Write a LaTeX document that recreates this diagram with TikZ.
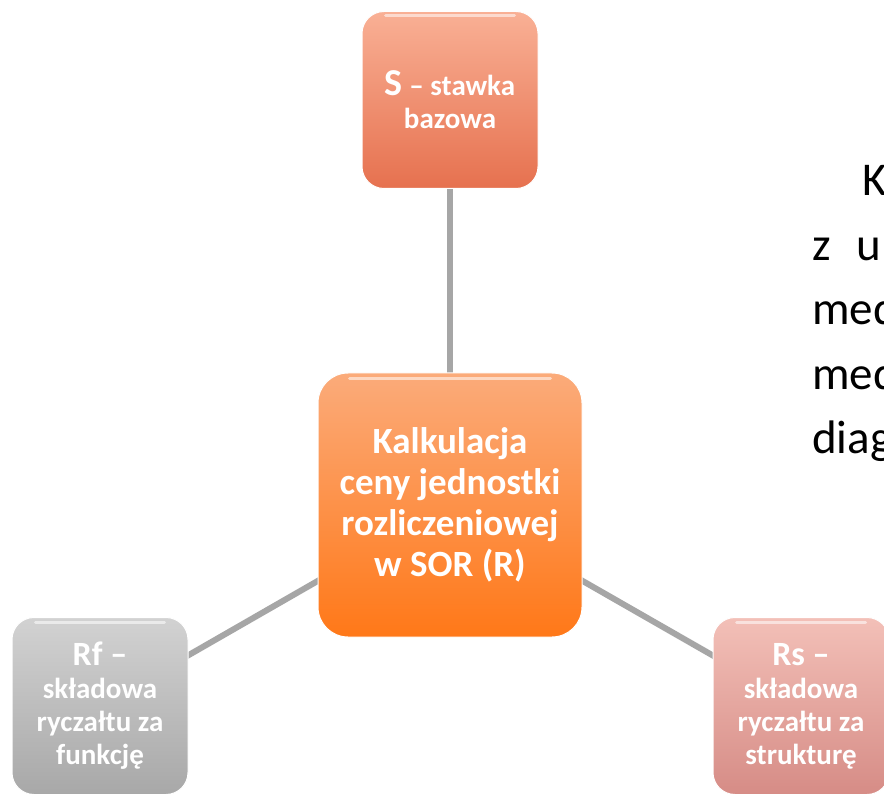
\documentclass[tikz,border=0pt]{standalone}
\usepackage{fontspec}
\setmainfont{Carlito}
\usetikzlibrary{backgrounds}
\definecolor{conncol}{HTML}{A6A6A6}
\definecolor{sTop}{HTML}{F9B095}
\definecolor{sBot}{HTML}{E6714F}
\definecolor{cTop}{HTML}{FBAB7A}
\definecolor{cBot}{HTML}{FF7818}
\definecolor{fTop}{HTML}{D2D2D2}
\definecolor{fBot}{HTML}{A8A8A8}
\definecolor{rTop}{HTML}{F3C0B8}
\definecolor{rBot}{HTML}{D68C86}
\tikzset{
  box/.style={rounded corners=22pt, inner sep=0pt, align=center, text=white,
    font=\fontsize{29}{33}\selectfont\bfseries,
    minimum width=176pt, minimum height=177pt, draw=white, line width=1pt},
  bigbox/.style={box, rounded corners=30pt, minimum width=264pt, minimum height=264pt,
    font=\fontsize{37}{41}\selectfont\bfseries},
  conn/.style={draw=conncol, line width=6pt},
  bodytext/.style={anchor=base west, inner sep=0pt, font=\fontsize{47}{50}\selectfont, text=black},
  gloss/.style={draw=white, line width=3pt, line cap=round, opacity=0.55}
}
\begin{document}
\begin{tikzpicture}[x=1pt,y=-1pt]
\useasboundingbox (0,0) rectangle (884,794);
\begin{scope}
\clip (0,0) rectangle (884,794);
\node[box, top color=sTop, bottom color=sBot] (s) at (450,100)
  {{\fontsize{38}{40}\selectfont S} – stawka\\bazowa};
\node[bigbox, top color=cTop, bottom color=cBot] (c) at (450,505)
  {Kalkulacja\\ceny jednostki\\rozliczeniowej\\w SOR (R)};
\node[box, top color=fTop, bottom color=fBot] (rf) at (100,706)
  {{\fontsize{34}{38}\selectfont Rf –}\\składowa\\ryczałtu za\\funkcję};
\node[box, top color=rTop, bottom color=rBot] (rs) at (801,706)
  {{\fontsize{34}{38}\selectfont Rs –}\\składowa\\ryczałtu za\\strukturę};
% glossy highlights
\foreach \n in {s,rf,rs}{
  \draw[gloss] ([xshift=24pt,yshift=-5pt]\n.north west) -- ([xshift=-24pt,yshift=-5pt]\n.north east);
}
\draw[gloss] ([xshift=32pt,yshift=-6pt]c.north west) -- ([xshift=-32pt,yshift=-6pt]c.north east);
% body text clipped at right
\node[bodytext] (t1) at (862,196) {K};
\node[bodytext] (t2) at (812,261) {z};
\node[bodytext] (t2b) at (856,261) {u};
\node[bodytext] (t3) at (812,325) {med};
\node[bodytext] (t4) at (812,389) {med};
\node[bodytext] (t5) at (812,453) {diag};
\begin{scope}[on background layer]
  \fill[white] (0,0) rectangle (884,794);
  \draw[conn] (c.center) -- (s.center);
  \draw[conn] (c.center) -- (rf.center);
  \draw[conn] (c.center) -- (rs.center);
\end{scope}
\end{scope}
\end{tikzpicture}
\end{document}
